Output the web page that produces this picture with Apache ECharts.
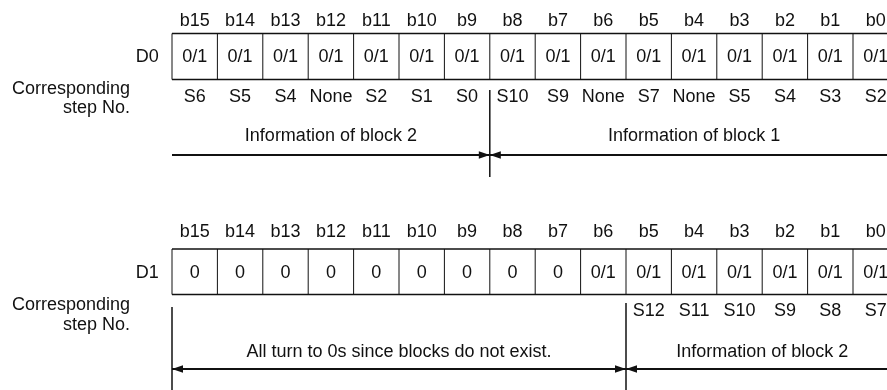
<!DOCTYPE html>
<html><head><meta charset="utf-8">
<script src="https://cdn.jsdelivr.net/npm/echarts@6/dist/echarts.min.js"></script>
<style>html,body{margin:0;padding:0;background:#fff}#c{width:887px;height:390px}</style>
</head><body><div id="c"></div>
<script>
// ---- data ----
const bitLabels = ['b15','b14','b13','b12','b11','b10','b9','b8','b7','b6','b5','b4','b3','b2','b1','b0'];
const registers = ['D0', 'D1'];
const d0Values = ['0/1','0/1','0/1','0/1','0/1','0/1','0/1','0/1','0/1','0/1','0/1','0/1','0/1','0/1','0/1','0/1'];
const d0Steps = ['S6','S5','S4','None','S2','S1','S0','S10','S9','None','S7','None','S5','S4','S3','S2'];
const d1Values = ['0','0','0','0','0','0','0','0','0','0/1','0/1','0/1','0/1','0/1','0/1','0/1'];
const d1Steps = ['','','','','','','','','','','S12','S11','S10','S9','S8','S7'];
const d0Blocks = ['Information of block 2', 'Information of block 1'];
const d0BlockEdges = [0, 7, 16];
const d1Blocks = ['All turn to 0s since blocks do not exist.', 'Information of block 2'];
const d1BlockEdges = [0, 10, 16];
const rowCaption = ['Corresponding', 'step No.'];

// ---- layout (pixel rows on a 0..390 vertical scale) ----
const CELL = 45.4, LEFT = 172, W = 887;
const panels = [
  { values: d0Values, steps: d0Steps, blocks: d0Blocks, edges: d0BlockEdges,
    bitY: 21, top: 33.5, bottom: 79.5, valueY: 57, stepY: 97, capY: [89, 108],
    blockY: 136, arrowY: 155, heads: [false, true, true, false],
    dividers: [{ at: 7, from: 90, to: 177 }] },
  { values: d1Values, steps: d1Steps, blocks: d1Blocks, edges: d1BlockEdges,
    bitY: 232, top: 249, bottom: 294.5, valueY: 273, stepY: 311, capY: [305, 325],
    blockY: 352, arrowY: 369, heads: [true, true, true, false],
    dividers: [{ at: 0, from: 307, to: 392 }, { at: 10, from: 303, to: 392 }] }
];
const FONT = '18px "Liberation Sans", Arial, sans-serif';
const INK = '#111';

function txt(text, x, y, align) {
  return { type: 'text', style: { text: text, x: x, y: y, fill: INK, font: FONT,
    align: align || 'center', verticalAlign: 'middle' } };
}

const cellData = [];
panels.forEach((p, pi) => bitLabels.forEach((b, i) => cellData.push([i, pi])));
const blockData = [];
panels.forEach((p, pi) => p.blocks.forEach((b, bi) => blockData.push([bi, pi])));
const divData = [];
panels.forEach((p, pi) => p.dividers.forEach((d, di) => divData.push([di, pi])));

const chart = echarts.init(document.getElementById('c'), null, { renderer: 'canvas' });
chart.setOption({
  animation: false,
  backgroundColor: '#fff',
  grid: { left: LEFT, top: 0, right: 0, bottom: 0 },
  xAxis: { type: 'value', min: 0, max: (W - LEFT) / CELL, show: false },
  yAxis: { type: 'value', min: 0, max: 390, inverse: true, show: false },
  series: [
    { // cells
      type: 'custom', clip: false, data: cellData,
      renderItem: function (params, api) {
        const i = api.value(0), p = panels[api.value(1)];
        const tl = api.coord([i, p.top]), br = api.coord([i + 1, p.bottom]);
        const cx = (tl[0] + br[0]) / 2;
        const ch = [
          { type: 'line', shape: { x1: tl[0], y1: tl[1], x2: tl[0], y2: br[1] }, style: { stroke: INK, lineWidth: 1 } },
          txt(p.values[i], cx, api.coord([i, p.valueY])[1]),
          txt(bitLabels[i], cx, api.coord([i, p.bitY])[1])
        ];
        if (p.steps[i]) ch.push(txt(p.steps[i], cx, api.coord([i, p.stepY])[1]));
        return { type: 'group', children: ch };
      }
    },
    { // table outline + register label + caption
      type: 'custom', clip: false, data: registers.map((r, pi) => [pi]),
      renderItem: function (params, api) {
        const pi = api.value(0), p = panels[pi];
        const tl = api.coord([0, p.top]), br = api.coord([16, p.bottom]);
        return { type: 'group', children: [
          { type: 'line', shape: { x1: tl[0], y1: tl[1], x2: br[0], y2: tl[1] }, style: { stroke: INK, lineWidth: 1.6 } },
          { type: 'line', shape: { x1: tl[0], y1: br[1], x2: br[0], y2: br[1] }, style: { stroke: INK, lineWidth: 1.6 } },
          txt(registers[pi], api.coord([-0.29, 0])[0], api.coord([0, p.valueY])[1], 'right'),
          txt(rowCaption[0], api.coord([-0.925, 0])[0], api.coord([0, p.capY[0]])[1], 'right'),
          txt(rowCaption[1], api.coord([-0.925, 0])[0], api.coord([0, p.capY[1]])[1], 'right')
        ] };
      }
    },
    { // block spans with arrows
      type: 'custom', clip: false, data: blockData,
      renderItem: function (params, api) {
        const bi = api.value(0), p = panels[api.value(1)];
        const a = api.coord([p.edges[bi], p.arrowY]), b = api.coord([p.edges[bi + 1], p.arrowY]);
        const y = a[1];
        const ch = [
          { type: 'line', shape: { x1: a[0], y1: y, x2: b[0], y2: y }, style: { stroke: INK, lineWidth: 2 } },
          txt(p.blocks[bi], (a[0] + b[0]) / 2, api.coord([0, p.blockY])[1])
        ];
        const L = 11, H = 3.8;
        if (p.heads[bi * 2]) ch.push({ type: 'polygon', shape: { points: [[a[0], y], [a[0] + L, y - H], [a[0] + L, y + H]] }, style: { fill: INK } });
        if (p.heads[bi * 2 + 1]) ch.push({ type: 'polygon', shape: { points: [[b[0], y], [b[0] - L, y - H], [b[0] - L, y + H]] }, style: { fill: INK } });
        return { type: 'group', children: ch };
      }
    },
    { // divider ticks
      type: 'custom', clip: false, data: divData,
      renderItem: function (params, api) {
        const d = panels[api.value(1)].dividers[api.value(0)];
        const a = api.coord([d.at, d.from]), b = api.coord([d.at, d.to]);
        return { type: 'line', shape: { x1: a[0], y1: a[1], x2: b[0], y2: b[1] }, style: { stroke: INK, lineWidth: 1.5 } };
      }
    }
  ]
});
</script></body></html>
